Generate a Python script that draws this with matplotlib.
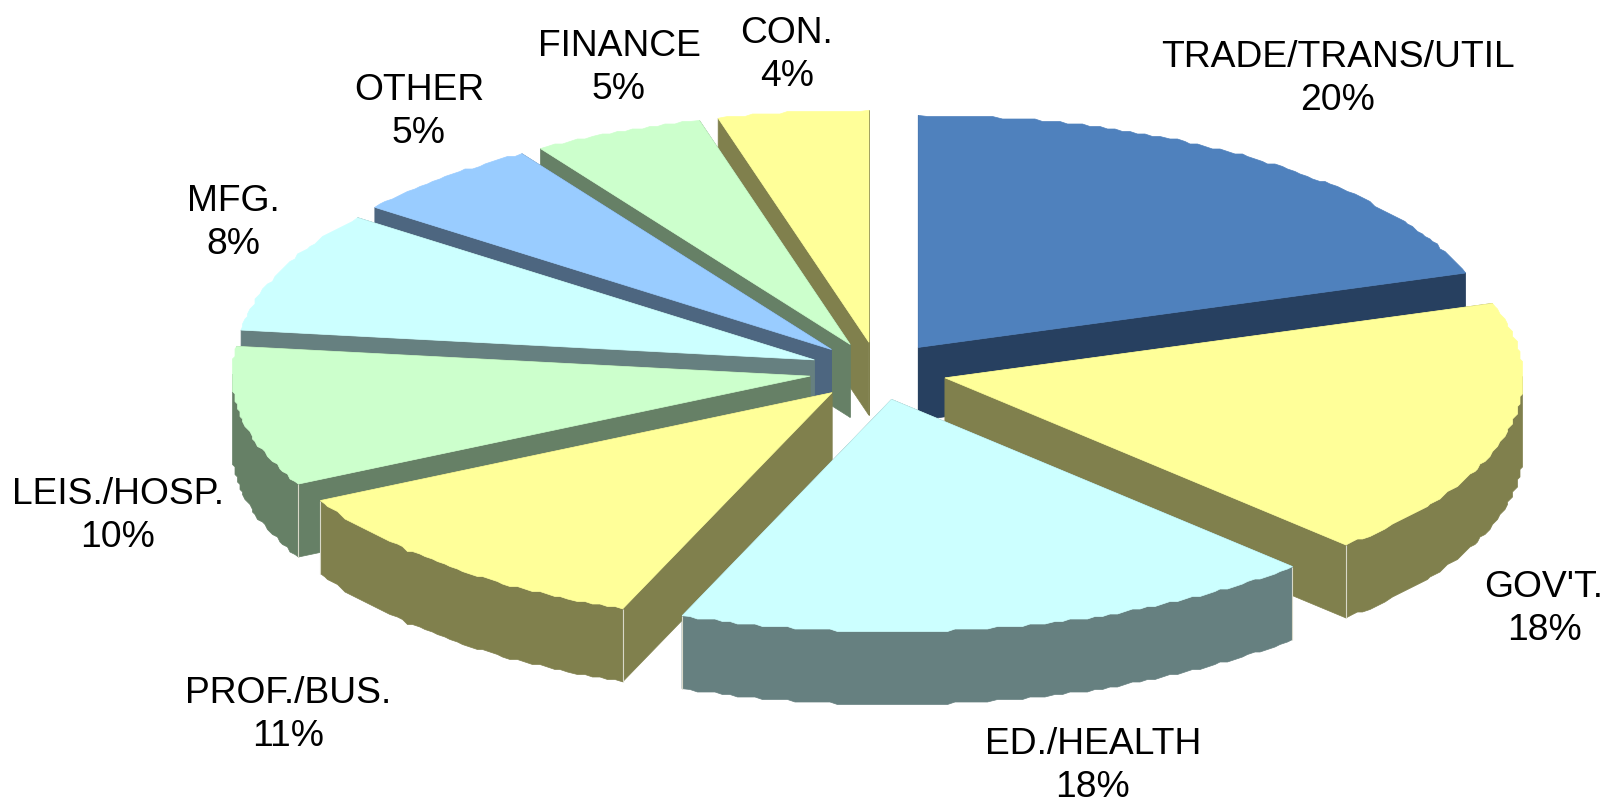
import numpy as np
import matplotlib
matplotlib.use("Agg")
import matplotlib.pyplot as plt
from matplotlib.patches import Polygon

categories = ["TRADE/TRANS/UTIL", "GOV'T.", "ED./HEALTH", "PROF./BUS.", "LEIS./HOSP.",
              "MFG.", "OTHER", "FINANCE", "CON."]
shares = [19.8, 18.0, 18.1, 11.4, 9.75, 8.45, 5.5, 4.8, 4.2]
printed = [20, 18, 18, 11, 10, 8, 5, 5, 4]
top_colors = ["#4F81BD", "#FFFF99", "#CCFFFF", "#FFFF99", "#CCFFCC",
              "#CCFFFF", "#99CCFF", "#CCFFCC", "#FFFF99"]
side_colors = ["#274060", "#80804D", "#668080", "#80804D", "#668066",
               "#668080", "#4D6680", "#668066", "#80804D"]
label_centres = [(1338, 79), (1544, 609), (1093, 766), (288, 715), (118, 516),
                 (233, 223), (419, 112), (619, 68), (787, 55)]

CX, CY = 878, 372
RX, RY = 578, 232
EX, EY = 69, 29
DEPTH = 73
STEP = 2.5

plt.rcParams["font.family"] = ["Liberation Sans", "DejaVu Sans"]
fig = plt.figure(figsize=(16.14, 8.03), dpi=100)
ax = fig.add_axes([0, 0, 1, 1])
ax.set_xlim(0, 1614)
ax.set_ylim(803, 0)
ax.axis("off")

vals = np.array(shares, dtype=float)
edges = np.concatenate([[0], np.cumsum(vals)]) / vals.sum() * 2 * np.pi


def wall(pts, color, z):
    pts = np.asarray(pts)
    low = pts + [0, DEPTH]
    ax.add_patch(Polygon(np.vstack([pts, low[::-1]]), closed=True, fc=color, ec=color,
                         lw=0.5, zorder=z))


mids = (edges[:-1] + edges[1:]) / 2
order = np.argsort(-np.cos(mids))
for rank, i in enumerate(order):
    t0, t1, tm = edges[i], edges[i + 1], mids[i]
    apex = np.array([CX + EX * np.sin(tm), CY - EY * np.cos(tm)])
    n = max(8, int((t1 - t0) * 70))
    th = np.linspace(t0, t1, n)
    rim = np.column_stack([apex[0] + RX * np.sin(th), apex[1] - RY * np.cos(th)])
    # the reference's curved edge is very slightly stepped, not perfectly smooth
    rim[1:-1] = np.round(rim[1:-1] / STEP) * STEP
    base = 10 + rank * 5
    start_pt, end_pt = rim[0], rim[-1]
    wall([apex, start_pt], side_colors[i], base)
    wall([apex, end_pt], side_colors[i], base + 1)
    front = rim[np.cos(th) < 0.02]
    if len(front) > 1:
        wall(front, side_colors[i], base + 2)
    for p, tv in ((start_pt, t0), (end_pt, t1)):
        if np.cos(tv) < 0:
            ax.plot([p[0], p[0]], [p[1], p[1] + DEPTH], color="#D8D8C8", lw=0.8,
                    zorder=base + 3, solid_capstyle="butt")
    ax.add_patch(Polygon(np.vstack([apex, rim]), closed=True, fc=top_colors[i],
                         ec=top_colors[i], lw=0.5, zorder=base + 4))

for name, v, (x, y) in zip(categories, printed, label_centres):
    ax.text(x, y, f"{name}\n{v}%", ha="center", va="center", ma="center",
            fontsize=26.8, color="black", linespacing=1.32, zorder=200)

fig.savefig("out.png", dpi=100, facecolor="white")
